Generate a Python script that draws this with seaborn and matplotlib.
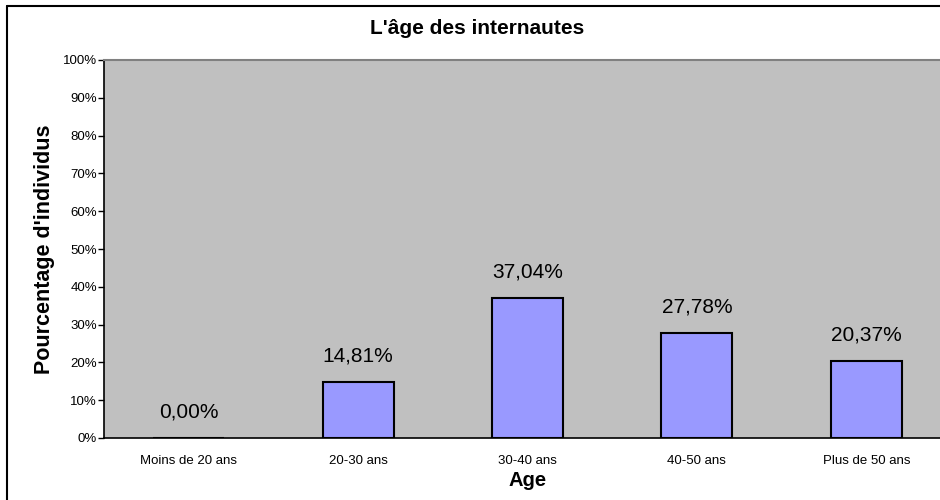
import matplotlib
matplotlib.use("Agg")
import matplotlib.pyplot as plt
import seaborn as sns
import pandas as pd
from matplotlib.lines import Line2D
from matplotlib.ticker import MultipleLocator, FuncFormatter

categories = ["Moins de 20 ans", "20-30 ans", "30-40 ans", "40-50 ans", "Plus de 50 ans"]
values = [0.00, 14.81, 37.04, 27.78, 20.37]
labels = ["0,00%", "14,81%", "37,04%", "27,78%", "20,37%"]
title = "L'âge des internautes"
xlabel = "Age"
ylabel = "Pourcentage d'individus"

sns.set_style("white")
plt.rcParams["font.family"] = ["Liberation Sans", "DejaVu Sans"]
plt.rcParams["text.color"] = "black"
plt.rcParams["axes.labelcolor"] = "black"
plt.rcParams["xtick.color"] = "black"
plt.rcParams["ytick.color"] = "black"

df = pd.DataFrame({"cat": categories, "val": values})

fig = plt.figure(figsize=(9.4, 5.0), dpi=100)
ax = fig.add_axes([104 / 940, 1 - 438 / 500, 847 / 940, 378 / 500])
ax.set_facecolor("#C0C0C0")

sns.barplot(data=df, x="cat", y="val", color="#9999FF", edgecolor="black",
            linewidth=1.5, width=0.42, saturation=1, ax=ax)

ax.set_xlim(-0.5, 4.5)
ax.set_ylim(0, 100)
ax.yaxis.set_major_locator(MultipleLocator(10))
ax.yaxis.set_major_formatter(FuncFormatter(lambda v, p: f"{int(round(v))}%"))

for i, (v, lab) in enumerate(zip(values, labels)):
    ax.annotate(lab, xy=(i, v), xytext=(0, 14.5), textcoords="offset points",
                ha="center", va="baseline", fontsize=15, color="black")

# x ticks at category boundaries, labels at centers
ax.set_xticks([0.5, 1.5, 2.5, 3.5], minor=False)
ax.set_xticklabels([])
ax.set_xticks(range(len(categories)), minor=True)
ax.set_xticklabels(categories, minor=True, fontsize=9.5)
ax.tick_params(axis="x", which="minor", length=0, pad=12)
ax.tick_params(axis="x", which="major", length=4, width=1, color="black", direction="out")
ax.tick_params(axis="y", which="major", length=4, width=1, color="black", direction="out",
               labelsize=9.5, pad=1, left=True)

for s in ["left", "bottom"]:
    ax.spines[s].set_color("black")
    ax.spines[s].set_linewidth(1.2)
ax.spines["top"].set_color("#808080")
ax.spines["top"].set_linewidth(1.5)
ax.spines["right"].set_visible(False)

ax.set_xlabel(xlabel, fontsize=14.5, fontweight="bold", labelpad=3)
ax.set_ylabel(ylabel, fontsize=15.5, fontweight="bold", labelpad=6)

fig.text(477 / 940, 1 - 28 / 500, title, ha="center", va="center",
         fontsize=15, fontweight="bold")

# outer chart border (left and top visible)
fig.add_artist(Line2D([7 / 940, 7 / 940], [0, 1 - 6 / 500], color="black", lw=1.5))
fig.add_artist(Line2D([7 / 940, 1], [1 - 6 / 500, 1 - 6 / 500], color="black", lw=1.5))

fig.savefig("out.png", dpi=100)
